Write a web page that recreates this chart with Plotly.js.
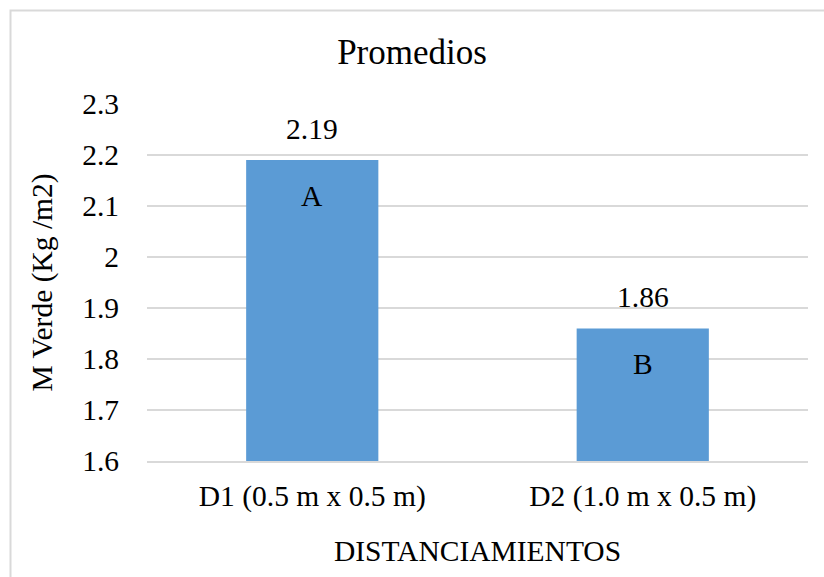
<!DOCTYPE html>
<html><head><meta charset="utf-8">
<script src="https://cdn.plot.ly/plotly-3.0.1.min.js"></script>
<style>html,body{margin:0;padding:0;background:#fff}</style>
</head><body>
<div id="chart" style="width:824px;height:577px"></div>
<script>
const categories = ["D1 (0.5 m x 0.5 m)", "D2 (1.0 m x 0.5 m)"];
const values = [2.19, 1.86];
const valueLabels = ["2.19", "1.86"];
const letters = ["A", "B"];
const yTicks = [1.6, 1.7, 1.8, 1.9, 2, 2.1, 2.2, 2.3];
const yTickText = ["1.6", "1.7", "1.8", "1.9", "2", "2.1", "2.2", "2.3"];

const font = "'Liberation Serif', 'Times New Roman', serif";
const fs = 29.5;

const trace = {
  type: "bar",
  x: categories,
  y: values,
  marker: {color: "#5B9BD5"},
  hoverinfo: "none"
};

const letterAnnotations = categories.map((c, i) => ({
  x: c, y: values[i], xref: "x", yref: "y",
  text: letters[i], showarrow: false,
  yanchor: "top", yshift: -18,
  font: {family: font, size: fs, color: "#000"}
}));
const valueAnnotations = categories.map((c, i) => ({
  x: c, y: values[i], xref: "x", yref: "y",
  text: valueLabels[i], showarrow: false,
  yanchor: "bottom", yshift: 13,
  font: {family: font, size: fs, color: "#000"}
}));

const layout = {
  width: 824, height: 577,
  margin: {l: 147, r: 16, t: 104, b: 116},
  paper_bgcolor: "#fff", plot_bgcolor: "#fff",
  showlegend: false,
  bargap: 0.6,
  font: {family: font, color: "#000"},
  title: {text: "Promedios", font: {family: font, size: 35, color: "#000"},
          x: 0.5, xanchor: "center", y: 1 - 52/577, yanchor: "middle"},
  xaxis: {
    type: "category",
    showgrid: false,
    showline: true, linecolor: "#d9d9d9", linewidth: 1.5,
    ticks: "", ticklabelstandoff: 8,
    tickfont: {family: font, size: fs, color: "#000"},
    title: {text: "DISTANCIAMIENTOS", font: {family: font, size: fs, color: "#000"}, standoff: 28}
  },
  yaxis: {
    range: [1.6, 2.3],
    tickvals: yTicks, ticktext: yTickText,
    showgrid: true, gridcolor: "#d9d9d9", gridwidth: 1.5,
    zeroline: false, showline: false,
    ticks: "", ticklabelstandoff: 27,
    tickfont: {family: font, size: fs, color: "#000"},
    title: {text: "M Verde (Kg /m2)", font: {family: font, size: fs, color: "#000"}, standoff: 20}
  },
  annotations: letterAnnotations.concat(valueAnnotations),
  shapes: [{
    type: "rect", xref: "paper", yref: "paper",
    x0: (10.5 - 147) / 661, x1: 2,
    y0: -2, y1: (461 - 10.5) / 357,
    line: {color: "#d9d9d9", width: 2}, fillcolor: "rgba(0,0,0,0)", layer: "below"
  }]
};

Plotly.newPlot("chart", [trace], layout, {displayModeBar: false, staticPlot: true});
</script>
</body></html>
